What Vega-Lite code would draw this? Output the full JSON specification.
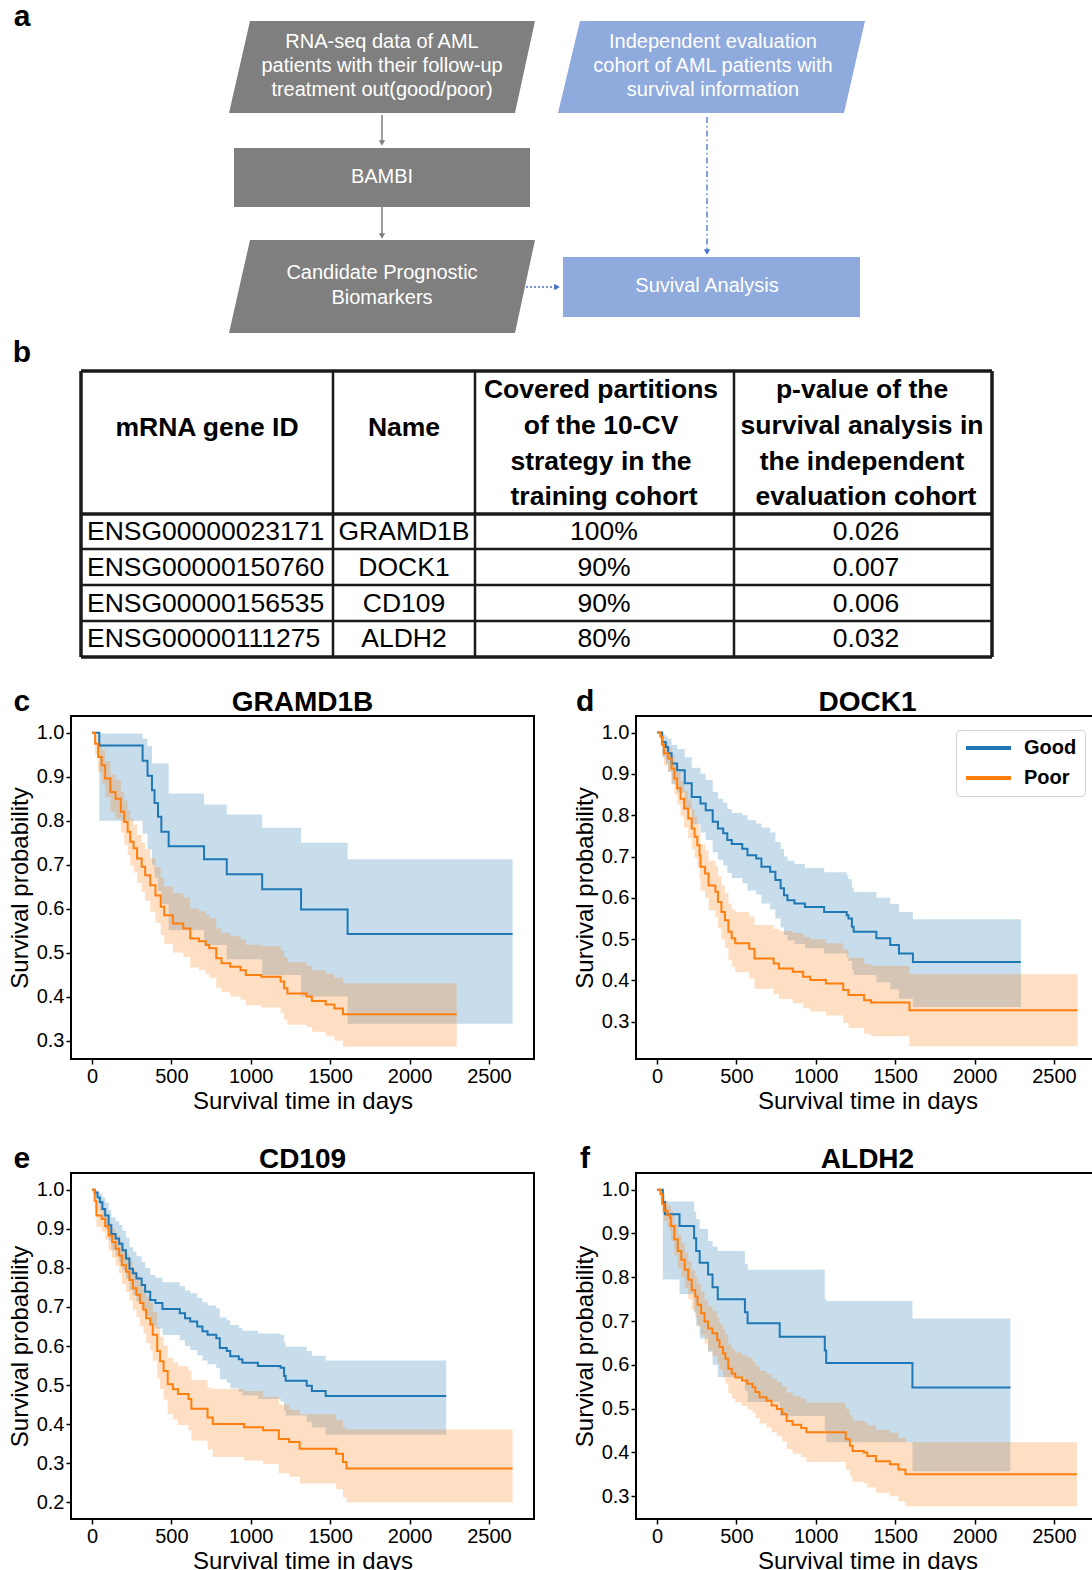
{
"$schema": "https://vega.github.io/schema/vega-lite/v6.json",
"padding": {"left": 7, "top": 0, "right": 0, "bottom": 0},
"background": "white",
"config": {
  "font": "Liberation Sans",
  "view": {"stroke": "black", "strokeWidth": 2},
  "axis": {"domain": false, "grid": false, "tickColor": "black", "tickSize": 5, "tickWidth": 1.5, "labelFontSize": 20, "labelColor": "black", "labelPadding": 2, "titleFontSize": 24, "titleFontWeight": "normal", "titleColor": "black", "titlePadding": 4, "labelOverlap": false},
  "axisX": {"labelPadding": 2, "titlePadding": 3}
},
"datasets": {
  "boxes": [
    {"id": "b1", "kind": "gray", "y": 21, "x": 250, "x2": 535},
    {"id": "b1", "kind": "gray", "y": 113, "x": 229, "x2": 515},
    {"id": "b2", "kind": "gray", "y": 148, "x": 234, "x2": 530},
    {"id": "b2", "kind": "gray", "y": 207, "x": 234, "x2": 530},
    {"id": "b3", "kind": "gray", "y": 240, "x": 250, "x2": 535},
    {"id": "b3", "kind": "gray", "y": 333, "x": 229, "x2": 515},
    {"id": "b4", "kind": "blue", "y": 21, "x": 580, "x2": 865},
    {"id": "b4", "kind": "blue", "y": 113, "x": 558, "x2": 844},
    {"id": "b5", "kind": "blue", "y": 257, "x": 563, "x2": 860},
    {"id": "b5", "kind": "blue", "y": 317, "x": 563, "x2": 860}
  ],
  "flowtext": [
    {"x": 382, "y": 42, "txt": "RNA-seq data of AML"},
    {"x": 382, "y": 66, "txt": "patients with their follow-up"},
    {"x": 382, "y": 90, "txt": "treatment out(good/poor)"},
    {"x": 382, "y": 177, "txt": "BAMBI"},
    {"x": 382, "y": 273, "txt": "Candidate Prognostic"},
    {"x": 382, "y": 298, "txt": "Biomarkers"},
    {"x": 713, "y": 42, "txt": "Independent evaluation"},
    {"x": 713, "y": 66, "txt": "cohort of AML patients with"},
    {"x": 713, "y": 90, "txt": "survival information"},
    {"x": 707, "y": 286, "txt": "Suvival Analysis"}
  ],
  "grayarrows": [
    {"x": 382, "y": 115, "x2": 382, "y2": 142},
    {"x": 382, "y": 207, "x2": 382, "y2": 235}
  ],
  "grayheads": [{"x": 382, "y": 143}, {"x": 382, "y": 236}],
  "dashdot": [{"x": 707, "y": 117, "x2": 707, "y2": 250}],
  "bluedownhead": [{"x": 707, "y": 252}],
  "dotted": [{"x": 526, "y": 287, "x2": 555, "y2": 287}],
  "bluerighthead": [{"x": 557, "y": 287}],
  "letters": [{"x": 22, "y": 17, "txt": "a"}, {"x": 22, "y": 353, "txt": "b"}],
  "tlines": [
    {"x": 81, "y": 549, "x2": 992, "y2": 549},
    {"x": 81, "y": 585, "x2": 992, "y2": 585},
    {"x": 81, "y": 621, "x2": 992, "y2": 621},
    {"x": 333, "y": 371, "x2": 333, "y2": 657},
    {"x": 475, "y": 371, "x2": 475, "y2": 657},
    {"x": 734, "y": 371, "x2": 734, "y2": 657}
  ],
  "tthick": [
    {"x": 81, "y": 371, "x2": 992, "y2": 371},
    {"x": 81, "y": 514, "x2": 992, "y2": 514},
    {"x": 81, "y": 657, "x2": 992, "y2": 657},
    {"x": 81, "y": 371, "x2": 81, "y2": 657},
    {"x": 992, "y": 371, "x2": 992, "y2": 657}
  ],
  "thead": [
    {"x": 207, "y": 428, "txt": "mRNA gene ID"},
    {"x": 404, "y": 428, "txt": "Name"},
    {"x": 601, "y": 390, "txt": "Covered partitions"},
    {"x": 601, "y": 426, "txt": "of the 10-CV"},
    {"x": 601, "y": 462, "txt": "strategy in the"},
    {"x": 604, "y": 497, "txt": "training cohort"},
    {"x": 862, "y": 390, "txt": "p-value of the"},
    {"x": 862, "y": 426, "txt": "survival analysis in"},
    {"x": 862, "y": 462, "txt": "the independent"},
    {"x": 866, "y": 497, "txt": "evaluation cohort"}
  ],
  "tid": [
    {"x": 87, "y": 532, "txt": "ENSG00000023171"},
    {"x": 87, "y": 568, "txt": "ENSG00000150760"},
    {"x": 87, "y": 604, "txt": "ENSG00000156535"},
    {"x": 87, "y": 639, "txt": "ENSG00000111275"}
  ],
  "tcell": [
    {"x": 404, "y": 532, "txt": "GRAMD1B"},
    {"x": 404, "y": 568, "txt": "DOCK1"},
    {"x": 404, "y": 604, "txt": "CD109"},
    {"x": 404, "y": 639, "txt": "ALDH2"},
    {"x": 604, "y": 532, "txt": "100%"},
    {"x": 604, "y": 568, "txt": "90%"},
    {"x": 604, "y": 604, "txt": "90%"},
    {"x": 604, "y": 639, "txt": "80%"},
    {"x": 866, "y": 532, "txt": "0.026"},
    {"x": 866, "y": 568, "txt": "0.007"},
    {"x": 866, "y": 604, "txt": "0.006"},
    {"x": 866, "y": 639, "txt": "0.032"}
  ],
  "c": [
    {"g":"Good","t":0,"s":1,"lo":1,"hi":1},
    {"g":"Good","t":46,"s":0.971,"lo":0.8,"hi":0.998},
    {"g":"Good","t":319,"s":0.936,"lo":0.77,"hi":0.986},
    {"g":"Good","t":350,"s":0.902,"lo":0.735,"hi":0.97},
    {"g":"Good","t":378,"s":0.869,"lo":0.7,"hi":0.93},
    {"g":"Good","t":394,"s":0.84,"lo":0.67,"hi":0.93},
    {"g":"Good","t":416,"s":0.809,"lo":0.64,"hi":0.93},
    {"g":"Good","t":437,"s":0.775,"lo":0.61,"hi":0.93},
    {"g":"Good","t":483,"s":0.742,"lo":0.551,"hi":0.862},
    {"g":"Good","t":706,"s":0.712,"lo":0.517,"hi":0.837},
    {"g":"Good","t":849,"s":0.678,"lo":0.485,"hi":0.814},
    {"g":"Good","t":1072,"s":0.644,"lo":0.449,"hi":0.784},
    {"g":"Good","t":1317,"s":0.598,"lo":0.4,"hi":0.75},
    {"g":"Good","t":1610,"s":0.542,"lo":0.338,"hi":0.712},
    {"g":"Good","t":2649,"s":0.542,"lo":0.338,"hi":0.712},
    {"g":"Poor","t":0,"s":1,"lo":1,"hi":1},
    {"g":"Poor","t":20,"s":0.975,"lo":0.95,"hi":0.995},
    {"g":"Poor","t":39,"s":0.945,"lo":0.91,"hi":0.975},
    {"g":"Poor","t":61,"s":0.926,"lo":0.885,"hi":0.96},
    {"g":"Poor","t":83,"s":0.896,"lo":0.853,"hi":0.935},
    {"g":"Poor","t":116,"s":0.865,"lo":0.82,"hi":0.905},
    {"g":"Poor","t":149,"s":0.85,"lo":0.805,"hi":0.893},
    {"g":"Poor","t":182,"s":0.82,"lo":0.773,"hi":0.865},
    {"g":"Poor","t":203,"s":0.797,"lo":0.745,"hi":0.845},
    {"g":"Poor","t":225,"s":0.775,"lo":0.722,"hi":0.825},
    {"g":"Poor","t":241,"s":0.752,"lo":0.698,"hi":0.805},
    {"g":"Poor","t":262,"s":0.737,"lo":0.682,"hi":0.79},
    {"g":"Poor","t":284,"s":0.714,"lo":0.658,"hi":0.768},
    {"g":"Poor","t":313,"s":0.695,"lo":0.638,"hi":0.75},
    {"g":"Poor","t":335,"s":0.676,"lo":0.618,"hi":0.735},
    {"g":"Poor","t":367,"s":0.653,"lo":0.593,"hi":0.715},
    {"g":"Poor","t":400,"s":0.63,"lo":0.568,"hi":0.695},
    {"g":"Poor","t":433,"s":0.604,"lo":0.54,"hi":0.67},
    {"g":"Poor","t":455,"s":0.585,"lo":0.52,"hi":0.65},
    {"g":"Poor","t":510,"s":0.566,"lo":0.5,"hi":0.635},
    {"g":"Poor","t":575,"s":0.555,"lo":0.49,"hi":0.625},
    {"g":"Poor","t":619,"s":0.532,"lo":0.466,"hi":0.6},
    {"g":"Poor","t":674,"s":0.526,"lo":0.46,"hi":0.594},
    {"g":"Poor","t":717,"s":0.517,"lo":0.45,"hi":0.586},
    {"g":"Poor","t":739,"s":0.51,"lo":0.443,"hi":0.578},
    {"g":"Poor","t":783,"s":0.487,"lo":0.42,"hi":0.555},
    {"g":"Poor","t":816,"s":0.476,"lo":0.41,"hi":0.545},
    {"g":"Poor","t":871,"s":0.468,"lo":0.4,"hi":0.537},
    {"g":"Poor","t":936,"s":0.46,"lo":0.393,"hi":0.53},
    {"g":"Poor","t":969,"s":0.449,"lo":0.38,"hi":0.518},
    {"g":"Poor","t":1067,"s":0.445,"lo":0.375,"hi":0.515},
    {"g":"Poor","t":1188,"s":0.434,"lo":0.363,"hi":0.505},
    {"g":"Poor","t":1210,"s":0.419,"lo":0.348,"hi":0.49},
    {"g":"Poor","t":1231,"s":0.407,"lo":0.336,"hi":0.478},
    {"g":"Poor","t":1352,"s":0.4,"lo":0.33,"hi":0.47},
    {"g":"Poor","t":1385,"s":0.39,"lo":0.32,"hi":0.46},
    {"g":"Poor","t":1472,"s":0.382,"lo":0.31,"hi":0.452},
    {"g":"Poor","t":1527,"s":0.373,"lo":0.3,"hi":0.443},
    {"g":"Poor","t":1581,"s":0.36,"lo":0.286,"hi":0.43},
    {"g":"Poor","t":2297,"s":0.36,"lo":0.286,"hi":0.43}
  ],
  "d": [
    {"g":"Good","t":0,"s":1,"lo":1,"hi":1},
    {"g":"Good","t":33,"s":0.977,"lo":0.94,"hi":0.995},
    {"g":"Good","t":55,"s":0.965,"lo":0.925,"hi":0.99},
    {"g":"Good","t":70,"s":0.95,"lo":0.905,"hi":0.985},
    {"g":"Good","t":92,"s":0.925,"lo":0.875,"hi":0.97},
    {"g":"Good","t":127,"s":0.909,"lo":0.855,"hi":0.96},
    {"g":"Good","t":175,"s":0.877,"lo":0.815,"hi":0.94},
    {"g":"Good","t":219,"s":0.844,"lo":0.778,"hi":0.915},
    {"g":"Good","t":274,"s":0.828,"lo":0.758,"hi":0.9},
    {"g":"Good","t":307,"s":0.812,"lo":0.74,"hi":0.885},
    {"g":"Good","t":351,"s":0.784,"lo":0.71,"hi":0.856},
    {"g":"Good","t":384,"s":0.768,"lo":0.692,"hi":0.84},
    {"g":"Good","t":417,"s":0.756,"lo":0.678,"hi":0.83},
    {"g":"Good","t":443,"s":0.74,"lo":0.66,"hi":0.815},
    {"g":"Good","t":471,"s":0.73,"lo":0.648,"hi":0.805},
    {"g":"Good","t":537,"s":0.719,"lo":0.635,"hi":0.8},
    {"g":"Good","t":570,"s":0.703,"lo":0.618,"hi":0.788},
    {"g":"Good","t":625,"s":0.695,"lo":0.608,"hi":0.78},
    {"g":"Good","t":658,"s":0.675,"lo":0.586,"hi":0.77},
    {"g":"Good","t":713,"s":0.663,"lo":0.572,"hi":0.758},
    {"g":"Good","t":746,"s":0.643,"lo":0.55,"hi":0.735},
    {"g":"Good","t":779,"s":0.623,"lo":0.528,"hi":0.718},
    {"g":"Good","t":800,"s":0.606,"lo":0.51,"hi":0.7},
    {"g":"Good","t":822,"s":0.594,"lo":0.497,"hi":0.69},
    {"g":"Good","t":866,"s":0.586,"lo":0.488,"hi":0.682},
    {"g":"Good","t":932,"s":0.578,"lo":0.478,"hi":0.672},
    {"g":"Good","t":1053,"s":0.566,"lo":0.465,"hi":0.662},
    {"g":"Good","t":1195,"s":0.558,"lo":0.456,"hi":0.655},
    {"g":"Good","t":1206,"s":0.55,"lo":0.447,"hi":0.645},
    {"g":"Good","t":1228,"s":0.53,"lo":0.426,"hi":0.625},
    {"g":"Good","t":1239,"s":0.518,"lo":0.413,"hi":0.614},
    {"g":"Good","t":1382,"s":0.502,"lo":0.396,"hi":0.6},
    {"g":"Good","t":1469,"s":0.486,"lo":0.378,"hi":0.585},
    {"g":"Good","t":1524,"s":0.465,"lo":0.356,"hi":0.566},
    {"g":"Good","t":1612,"s":0.445,"lo":0.336,"hi":0.548},
    {"g":"Good","t":2292,"s":0.445,"lo":0.336,"hi":0.548},
    {"g":"Poor","t":0,"s":1,"lo":1,"hi":1},
    {"g":"Poor","t":22,"s":0.99,"lo":0.97,"hi":0.998},
    {"g":"Poor","t":33,"s":0.97,"lo":0.945,"hi":0.99},
    {"g":"Poor","t":44,"s":0.95,"lo":0.92,"hi":0.975},
    {"g":"Poor","t":70,"s":0.937,"lo":0.905,"hi":0.965},
    {"g":"Poor","t":92,"s":0.913,"lo":0.877,"hi":0.945},
    {"g":"Poor","t":110,"s":0.889,"lo":0.85,"hi":0.925},
    {"g":"Poor","t":127,"s":0.865,"lo":0.825,"hi":0.905},
    {"g":"Poor","t":149,"s":0.84,"lo":0.797,"hi":0.882},
    {"g":"Poor","t":171,"s":0.816,"lo":0.77,"hi":0.86},
    {"g":"Poor","t":197,"s":0.792,"lo":0.745,"hi":0.838},
    {"g":"Poor","t":219,"s":0.768,"lo":0.718,"hi":0.815},
    {"g":"Poor","t":237,"s":0.748,"lo":0.696,"hi":0.797},
    {"g":"Poor","t":254,"s":0.727,"lo":0.673,"hi":0.778},
    {"g":"Poor","t":268,"s":0.703,"lo":0.648,"hi":0.757},
    {"g":"Poor","t":274,"s":0.675,"lo":0.618,"hi":0.73},
    {"g":"Poor","t":303,"s":0.659,"lo":0.6,"hi":0.715},
    {"g":"Poor","t":325,"s":0.63,"lo":0.57,"hi":0.69},
    {"g":"Poor","t":368,"s":0.615,"lo":0.553,"hi":0.677},
    {"g":"Poor","t":384,"s":0.59,"lo":0.527,"hi":0.653},
    {"g":"Poor","t":406,"s":0.566,"lo":0.5,"hi":0.63},
    {"g":"Poor","t":428,"s":0.546,"lo":0.479,"hi":0.612},
    {"g":"Poor","t":450,"s":0.518,"lo":0.45,"hi":0.586},
    {"g":"Poor","t":471,"s":0.502,"lo":0.433,"hi":0.572},
    {"g":"Poor","t":493,"s":0.49,"lo":0.42,"hi":0.566},
    {"g":"Poor","t":581,"s":0.477,"lo":0.405,"hi":0.555},
    {"g":"Poor","t":614,"s":0.453,"lo":0.38,"hi":0.534},
    {"g":"Poor","t":735,"s":0.441,"lo":0.367,"hi":0.525},
    {"g":"Poor","t":768,"s":0.429,"lo":0.355,"hi":0.52},
    {"g":"Poor","t":855,"s":0.421,"lo":0.345,"hi":0.515},
    {"g":"Poor","t":921,"s":0.409,"lo":0.333,"hi":0.505},
    {"g":"Poor","t":965,"s":0.401,"lo":0.325,"hi":0.5},
    {"g":"Poor","t":1064,"s":0.393,"lo":0.315,"hi":0.49},
    {"g":"Poor","t":1173,"s":0.377,"lo":0.298,"hi":0.475},
    {"g":"Poor","t":1206,"s":0.365,"lo":0.285,"hi":0.455},
    {"g":"Poor","t":1305,"s":0.352,"lo":0.271,"hi":0.44},
    {"g":"Poor","t":1349,"s":0.347,"lo":0.265,"hi":0.435},
    {"g":"Poor","t":1590,"s":0.328,"lo":0.241,"hi":0.415},
    {"g":"Poor","t":2649,"s":0.328,"lo":0.241,"hi":0.415}
  ],
  "e": [
    {"g":"Good","t":0,"s":1,"lo":1,"hi":1},
    {"g":"Good","t":17,"s":0.993,"lo":0.98,"hi":0.999},
    {"g":"Good","t":35,"s":0.98,"lo":0.96,"hi":0.995},
    {"g":"Good","t":50,"s":0.968,"lo":0.945,"hi":0.99},
    {"g":"Good","t":66,"s":0.951,"lo":0.922,"hi":0.98},
    {"g":"Good","t":83,"s":0.934,"lo":0.9,"hi":0.967},
    {"g":"Good","t":105,"s":0.909,"lo":0.87,"hi":0.948},
    {"g":"Good","t":122,"s":0.887,"lo":0.845,"hi":0.93},
    {"g":"Good","t":149,"s":0.875,"lo":0.83,"hi":0.92},
    {"g":"Good","t":171,"s":0.862,"lo":0.815,"hi":0.91},
    {"g":"Good","t":192,"s":0.845,"lo":0.795,"hi":0.895},
    {"g":"Good","t":214,"s":0.824,"lo":0.772,"hi":0.877},
    {"g":"Good","t":236,"s":0.798,"lo":0.743,"hi":0.853},
    {"g":"Good","t":258,"s":0.786,"lo":0.73,"hi":0.842},
    {"g":"Good","t":280,"s":0.773,"lo":0.715,"hi":0.83},
    {"g":"Good","t":313,"s":0.756,"lo":0.696,"hi":0.815},
    {"g":"Good","t":335,"s":0.739,"lo":0.677,"hi":0.8},
    {"g":"Good","t":367,"s":0.718,"lo":0.654,"hi":0.782},
    {"g":"Good","t":400,"s":0.71,"lo":0.645,"hi":0.775},
    {"g":"Good","t":444,"s":0.695,"lo":0.628,"hi":0.763},
    {"g":"Good","t":553,"s":0.684,"lo":0.615,"hi":0.753},
    {"g":"Good","t":586,"s":0.671,"lo":0.6,"hi":0.742},
    {"g":"Good","t":619,"s":0.663,"lo":0.59,"hi":0.735},
    {"g":"Good","t":663,"s":0.65,"lo":0.576,"hi":0.723},
    {"g":"Good","t":696,"s":0.638,"lo":0.563,"hi":0.712},
    {"g":"Good","t":728,"s":0.629,"lo":0.553,"hi":0.704},
    {"g":"Good","t":783,"s":0.62,"lo":0.543,"hi":0.696},
    {"g":"Good","t":805,"s":0.595,"lo":0.515,"hi":0.673},
    {"g":"Good","t":849,"s":0.587,"lo":0.506,"hi":0.666},
    {"g":"Good","t":871,"s":0.574,"lo":0.492,"hi":0.654},
    {"g":"Good","t":925,"s":0.566,"lo":0.483,"hi":0.647},
    {"g":"Good","t":947,"s":0.557,"lo":0.473,"hi":0.639},
    {"g":"Good","t":1045,"s":0.549,"lo":0.464,"hi":0.632},
    {"g":"Good","t":1188,"s":0.544,"lo":0.458,"hi":0.628},
    {"g":"Good","t":1210,"s":0.523,"lo":0.435,"hi":0.609},
    {"g":"Good","t":1220,"s":0.511,"lo":0.422,"hi":0.598},
    {"g":"Good","t":1352,"s":0.498,"lo":0.406,"hi":0.587},
    {"g":"Good","t":1385,"s":0.485,"lo":0.391,"hi":0.575},
    {"g":"Good","t":1472,"s":0.472,"lo":0.373,"hi":0.563},
    {"g":"Good","t":2231,"s":0.472,"lo":0.373,"hi":0.563},
    {"g":"Poor","t":0,"s":1,"lo":1,"hi":1},
    {"g":"Poor","t":17,"s":0.972,"lo":0.95,"hi":0.99},
    {"g":"Poor","t":28,"s":0.934,"lo":0.905,"hi":0.96},
    {"g":"Poor","t":61,"s":0.925,"lo":0.893,"hi":0.952},
    {"g":"Poor","t":83,"s":0.907,"lo":0.872,"hi":0.937},
    {"g":"Poor","t":105,"s":0.883,"lo":0.845,"hi":0.915},
    {"g":"Poor","t":127,"s":0.866,"lo":0.826,"hi":0.9},
    {"g":"Poor","t":149,"s":0.849,"lo":0.806,"hi":0.885},
    {"g":"Poor","t":171,"s":0.832,"lo":0.787,"hi":0.87},
    {"g":"Poor","t":188,"s":0.807,"lo":0.758,"hi":0.848},
    {"g":"Poor","t":214,"s":0.79,"lo":0.739,"hi":0.833},
    {"g":"Poor","t":236,"s":0.769,"lo":0.716,"hi":0.815},
    {"g":"Poor","t":258,"s":0.748,"lo":0.693,"hi":0.796},
    {"g":"Poor","t":280,"s":0.731,"lo":0.674,"hi":0.78},
    {"g":"Poor","t":302,"s":0.71,"lo":0.651,"hi":0.761},
    {"g":"Poor","t":324,"s":0.693,"lo":0.632,"hi":0.745},
    {"g":"Poor","t":341,"s":0.671,"lo":0.608,"hi":0.725},
    {"g":"Poor","t":367,"s":0.655,"lo":0.59,"hi":0.71},
    {"g":"Poor","t":383,"s":0.629,"lo":0.562,"hi":0.687},
    {"g":"Poor","t":411,"s":0.587,"lo":0.517,"hi":0.648},
    {"g":"Poor","t":429,"s":0.561,"lo":0.49,"hi":0.624},
    {"g":"Poor","t":451,"s":0.536,"lo":0.463,"hi":0.601},
    {"g":"Poor","t":477,"s":0.502,"lo":0.426,"hi":0.57},
    {"g":"Poor","t":510,"s":0.489,"lo":0.412,"hi":0.558},
    {"g":"Poor","t":542,"s":0.477,"lo":0.398,"hi":0.548},
    {"g":"Poor","t":608,"s":0.464,"lo":0.384,"hi":0.537},
    {"g":"Poor","t":626,"s":0.439,"lo":0.358,"hi":0.513},
    {"g":"Poor","t":728,"s":0.417,"lo":0.335,"hi":0.493},
    {"g":"Poor","t":761,"s":0.4,"lo":0.316,"hi":0.49},
    {"g":"Poor","t":958,"s":0.392,"lo":0.307,"hi":0.485},
    {"g":"Poor","t":1078,"s":0.384,"lo":0.298,"hi":0.47},
    {"g":"Poor","t":1177,"s":0.362,"lo":0.274,"hi":0.45},
    {"g":"Poor","t":1242,"s":0.354,"lo":0.265,"hi":0.437},
    {"g":"Poor","t":1308,"s":0.337,"lo":0.248,"hi":0.425},
    {"g":"Poor","t":1538,"s":0.324,"lo":0.233,"hi":0.411},
    {"g":"Poor","t":1581,"s":0.303,"lo":0.213,"hi":0.392},
    {"g":"Poor","t":1603,"s":0.286,"lo":0.2,"hi":0.386},
    {"g":"Poor","t":2649,"s":0.286,"lo":0.2,"hi":0.386}
  ],
  "f": [
    {"g":"Good","t":0,"s":1,"lo":1,"hi":1},
    {"g":"Good","t":37,"s":0.972,"lo":0.795,"hi":0.99},
    {"g":"Good","t":50,"s":0.944,"lo":0.795,"hi":0.973},
    {"g":"Good","t":142,"s":0.917,"lo":0.762,"hi":0.973},
    {"g":"Good","t":234,"s":0.889,"lo":0.72,"hi":0.95},
    {"g":"Good","t":247,"s":0.86,"lo":0.69,"hi":0.933},
    {"g":"Good","t":269,"s":0.833,"lo":0.66,"hi":0.91},
    {"g":"Good","t":322,"s":0.806,"lo":0.63,"hi":0.883},
    {"g":"Good","t":350,"s":0.777,"lo":0.6,"hi":0.87},
    {"g":"Good","t":383,"s":0.75,"lo":0.572,"hi":0.86},
    {"g":"Good","t":554,"s":0.72,"lo":0.54,"hi":0.83},
    {"g":"Good","t":571,"s":0.695,"lo":0.515,"hi":0.817},
    {"g":"Good","t":773,"s":0.664,"lo":0.483,"hi":0.817},
    {"g":"Good","t":1057,"s":0.633,"lo":0.45,"hi":0.75},
    {"g":"Good","t":1066,"s":0.604,"lo":0.423,"hi":0.746},
    {"g":"Good","t":1609,"s":0.548,"lo":0.357,"hi":0.706},
    {"g":"Good","t":2226,"s":0.548,"lo":0.357,"hi":0.706},
    {"g":"Poor","t":0,"s":1,"lo":1,"hi":1},
    {"g":"Poor","t":22,"s":0.99,"lo":0.975,"hi":0.998},
    {"g":"Poor","t":33,"s":0.967,"lo":0.945,"hi":0.985},
    {"g":"Poor","t":44,"s":0.952,"lo":0.928,"hi":0.975},
    {"g":"Poor","t":66,"s":0.942,"lo":0.915,"hi":0.965},
    {"g":"Poor","t":81,"s":0.936,"lo":0.905,"hi":0.962},
    {"g":"Poor","t":88,"s":0.917,"lo":0.882,"hi":0.95},
    {"g":"Poor","t":109,"s":0.887,"lo":0.85,"hi":0.922},
    {"g":"Poor","t":131,"s":0.86,"lo":0.82,"hi":0.898},
    {"g":"Poor","t":153,"s":0.84,"lo":0.8,"hi":0.878},
    {"g":"Poor","t":175,"s":0.817,"lo":0.775,"hi":0.857},
    {"g":"Poor","t":197,"s":0.794,"lo":0.75,"hi":0.837},
    {"g":"Poor","t":219,"s":0.771,"lo":0.725,"hi":0.816},
    {"g":"Poor","t":241,"s":0.756,"lo":0.708,"hi":0.802},
    {"g":"Poor","t":256,"s":0.737,"lo":0.688,"hi":0.785},
    {"g":"Poor","t":278,"s":0.718,"lo":0.668,"hi":0.767},
    {"g":"Poor","t":300,"s":0.699,"lo":0.648,"hi":0.749},
    {"g":"Poor","t":322,"s":0.683,"lo":0.632,"hi":0.734},
    {"g":"Poor","t":350,"s":0.672,"lo":0.62,"hi":0.723},
    {"g":"Poor","t":379,"s":0.656,"lo":0.604,"hi":0.708},
    {"g":"Poor","t":394,"s":0.641,"lo":0.588,"hi":0.693},
    {"g":"Poor","t":416,"s":0.626,"lo":0.571,"hi":0.68},
    {"g":"Poor","t":431,"s":0.614,"lo":0.558,"hi":0.669},
    {"g":"Poor","t":449,"s":0.591,"lo":0.535,"hi":0.647},
    {"g":"Poor","t":471,"s":0.58,"lo":0.523,"hi":0.637},
    {"g":"Poor","t":493,"s":0.571,"lo":0.514,"hi":0.628},
    {"g":"Poor","t":536,"s":0.564,"lo":0.506,"hi":0.622},
    {"g":"Poor","t":569,"s":0.557,"lo":0.498,"hi":0.616},
    {"g":"Poor","t":602,"s":0.549,"lo":0.49,"hi":0.608},
    {"g":"Poor","t":620,"s":0.538,"lo":0.478,"hi":0.598},
    {"g":"Poor","t":646,"s":0.526,"lo":0.466,"hi":0.586},
    {"g":"Poor","t":690,"s":0.518,"lo":0.457,"hi":0.579},
    {"g":"Poor","t":722,"s":0.507,"lo":0.446,"hi":0.568},
    {"g":"Poor","t":755,"s":0.499,"lo":0.437,"hi":0.561},
    {"g":"Poor","t":788,"s":0.488,"lo":0.425,"hi":0.551},
    {"g":"Poor","t":817,"s":0.472,"lo":0.407,"hi":0.537},
    {"g":"Poor","t":854,"s":0.463,"lo":0.397,"hi":0.529},
    {"g":"Poor","t":908,"s":0.456,"lo":0.389,"hi":0.523},
    {"g":"Poor","t":941,"s":0.446,"lo":0.378,"hi":0.514},
    {"g":"Poor","t":1189,"s":0.43,"lo":0.36,"hi":0.5},
    {"g":"Poor","t":1215,"s":0.415,"lo":0.345,"hi":0.485},
    {"g":"Poor","t":1232,"s":0.403,"lo":0.333,"hi":0.473},
    {"g":"Poor","t":1302,"s":0.4,"lo":0.329,"hi":0.47},
    {"g":"Poor","t":1324,"s":0.392,"lo":0.32,"hi":0.462},
    {"g":"Poor","t":1379,"s":0.38,"lo":0.308,"hi":0.452},
    {"g":"Poor","t":1467,"s":0.373,"lo":0.3,"hi":0.445},
    {"g":"Poor","t":1521,"s":0.361,"lo":0.288,"hi":0.433},
    {"g":"Poor","t":1565,"s":0.35,"lo":0.277,"hi":0.423},
    {"g":"Poor","t":2645,"s":0.35,"lo":0.277,"hi":0.423}
  ]
},
"spacing": 15,
"resolve": {"scale": {"color": "independent"}, "legend": {"color": "independent"}},
"vconcat": [
  {
    "width": 1092, "height": 670,
    "view": {"stroke": null},
    "encoding": {
      "x": {"field": "x", "type": "quantitative", "scale": {"domain": [71, 1163], "nice": false, "zero": false}, "axis": null},
      "y": {"field": "y", "type": "quantitative", "scale": {"domain": [0, 670], "reverse": true, "nice": false, "zero": false}, "axis": null}
    },
    "layer": [
      {"data": {"name": "boxes"}, "mark": {"type": "area", "orient": "horizontal"},
       "encoding": {"x": {"field": "x", "type": "quantitative", "stack": null, "scale": {"domain": [71, 1163], "nice": false, "zero": false}, "axis": null}, "x2": {"field": "x2"}, "detail": {"field": "id"},
         "color": {"field": "kind", "type": "nominal", "scale": {"domain": ["gray", "blue"], "range": ["#7f7f7f", "#8faadc"]}, "legend": null}}},
      {"data": {"name": "flowtext"}, "mark": {"type": "text", "color": "white", "fontSize": 20, "align": "center", "baseline": "middle"}, "encoding": {"text": {"field": "txt"}}},
      {"data": {"name": "grayarrows"}, "mark": {"type": "rule", "color": "#7f7f7f", "strokeWidth": 1.5}, "encoding": {"x2": {"field": "x2"}, "y2": {"field": "y2"}}},
      {"data": {"name": "grayheads"}, "mark": {"type": "point", "shape": "triangle-down", "filled": true, "color": "#7f7f7f", "size": 40, "opacity": 1}, "encoding": {}},
      {"data": {"name": "dashdot"}, "mark": {"type": "rule", "color": "#4472c4", "strokeWidth": 1.3, "strokeDash": [6, 3, 1.5, 3]}, "encoding": {"x2": {"field": "x2"}, "y2": {"field": "y2"}}},
      {"data": {"name": "bluedownhead"}, "mark": {"type": "point", "shape": "triangle-down", "filled": true, "color": "#4472c4", "size": 40, "opacity": 1}, "encoding": {}},
      {"data": {"name": "dotted"}, "mark": {"type": "rule", "color": "#4472c4", "strokeWidth": 1.3, "strokeDash": [2, 2]}, "encoding": {"x2": {"field": "x2"}, "y2": {"field": "y2"}}},
      {"data": {"name": "bluerighthead"}, "mark": {"type": "point", "shape": "triangle-right", "filled": true, "color": "#4472c4", "size": 40, "opacity": 1}, "encoding": {}},
      {"data": {"name": "letters"}, "mark": {"type": "text", "color": "black", "fontSize": 30, "fontWeight": "bold", "align": "center", "baseline": "middle"}, "encoding": {"text": {"field": "txt"}}},
      {"data": {"name": "tlines"}, "mark": {"type": "rule", "color": "#1a1a1a", "strokeWidth": 2.5}, "encoding": {"x2": {"field": "x2"}, "y2": {"field": "y2"}}},
      {"data": {"name": "tthick"}, "mark": {"type": "rule", "color": "#1a1a1a", "strokeWidth": 3.5}, "encoding": {"x2": {"field": "x2"}, "y2": {"field": "y2"}}},
      {"data": {"name": "thead"}, "mark": {"type": "text", "color": "black", "fontSize": 26.5, "fontWeight": "bold", "align": "center", "baseline": "middle"}, "encoding": {"text": {"field": "txt"}}},
      {"data": {"name": "tid"}, "mark": {"type": "text", "color": "black", "fontSize": 26.5, "align": "left", "baseline": "middle"}, "encoding": {"text": {"field": "txt"}}},
      {"data": {"name": "tcell"}, "mark": {"type": "text", "color": "black", "fontSize": 26.5, "align": "center", "baseline": "middle"}, "encoding": {"text": {"field": "txt"}}}
    ]
  },
  {
    "spacing": 28,
    "resolve": {"scale": {"color": "independent"}, "legend": {"color": "independent"}},
    "vconcat": [
      {
        "spacing": 37,
        "resolve": {"scale": {"color": "independent"}, "legend": {"color": "independent"}},
        "hconcat": [
          {
            "width": 463, "height": 343,
            "data": {"name": "c"},
            "encoding": {
              "x": {"field": "t", "type": "quantitative", "scale": {"domain": [-132, 2784], "nice": false, "zero": false}, "axis": {"values": [0, 500, 1000, 1500, 2000, 2500], "format": "d", "title": "Survival time in days"}},
              "y": {"field": "s", "type": "quantitative", "scale": {"domain": [0.258, 1.038], "nice": false, "zero": false}, "axis": {"values": [0.3, 0.4, 0.5, 0.6, 0.7, 0.8, 0.9, 1.0], "format": ".1f"}, "title": "Survival probability"}
            },
            "layer": [
              {"transform": [{"filter": "datum.g == 'Good'"}], "mark": {"type": "area", "interpolate": "step-after", "color": "#1f77b4", "opacity": 0.25},
               "encoding": {"y": {"field": "lo", "type": "quantitative", "scale": {"domain": [0.258, 1.038], "nice": false, "zero": false}, "title": "Survival probability"}, "y2": {"field": "hi"}}},
              {"transform": [{"filter": "datum.g == 'Poor'"}], "mark": {"type": "area", "interpolate": "step-after", "color": "#ff7f0e", "opacity": 0.25},
               "encoding": {"y": {"field": "lo", "type": "quantitative", "scale": {"domain": [0.258, 1.038], "nice": false, "zero": false}, "title": "Survival probability"}, "y2": {"field": "hi"}}},
              {"mark": {"type": "line", "interpolate": "step-after", "strokeWidth": 2},
               "encoding": {"color": {"field": "g", "type": "nominal", "scale": {"domain": ["Good", "Poor"], "range": ["#1f77b4", "#ff7f0e"]}, "legend": null}}},
              {"data": {"values": [{"lab": "GRAMD1B", "t": 1326, "s": 1.0505}]}, "mark": {"type": "text", "fontSize": 28, "fontWeight": "bold", "color": "black", "align": "center", "baseline": "alphabetic", "clip": false},
               "encoding": {"text": {"field": "lab"}}},
              {"data": {"values": [{"lab": "c", "t": -441, "s": 1.0505}]}, "mark": {"type": "text", "fontSize": 30, "fontWeight": "bold", "color": "black", "align": "center", "baseline": "alphabetic", "clip": false},
               "encoding": {"text": {"field": "lab"}}}
            ]
          },
          {
            "width": 463, "height": 343,
            "data": {"name": "d"},
            "encoding": {
              "x": {"field": "t", "type": "quantitative", "scale": {"domain": [-132, 2784], "nice": false, "zero": false}, "axis": {"values": [0, 500, 1000, 1500, 2000, 2500], "format": "d", "title": "Survival time in days"}},
              "y": {"field": "s", "type": "quantitative", "scale": {"domain": [0.21, 1.04], "nice": false, "zero": false}, "axis": {"values": [0.3, 0.4, 0.5, 0.6, 0.7, 0.8, 0.9, 1.0], "format": ".1f"}, "title": "Survival probability"}
            },
            "layer": [
              {"transform": [{"filter": "datum.g == 'Good'"}], "mark": {"type": "area", "interpolate": "step-after", "color": "#1f77b4", "opacity": 0.25},
               "encoding": {"y": {"field": "lo", "type": "quantitative", "scale": {"domain": [0.21, 1.04], "nice": false, "zero": false}, "title": "Survival probability"}, "y2": {"field": "hi"}}},
              {"transform": [{"filter": "datum.g == 'Poor'"}], "mark": {"type": "area", "interpolate": "step-after", "color": "#ff7f0e", "opacity": 0.25},
               "encoding": {"y": {"field": "lo", "type": "quantitative", "scale": {"domain": [0.21, 1.04], "nice": false, "zero": false}, "title": "Survival probability"}, "y2": {"field": "hi"}}},
              {"mark": {"type": "line", "interpolate": "step-after", "strokeWidth": 2},
               "encoding": {"color": {"field": "g", "type": "nominal", "scale": {"domain": ["Good", "Poor"], "range": ["#1f77b4", "#ff7f0e"]},
                 "legend": {"orient": "top-right", "title": null, "offset": 14, "fillColor": "white", "strokeColor": "#d0d0d0", "cornerRadius": 4, "padding": 8, "labelFontSize": 20, "labelFontWeight": "bold", "labelColor": "black", "symbolType": "stroke", "symbolStrokeWidth": 4, "symbolSize": 2025, "clipHeight": 20, "rowPadding": 10, "labelOffset": 11}}}},
              {"data": {"values": [{"lab": "DOCK1", "t": 1326, "s": 1.0533}]}, "mark": {"type": "text", "fontSize": 28, "fontWeight": "bold", "color": "black", "align": "center", "baseline": "alphabetic", "clip": false},
               "encoding": {"text": {"field": "lab"}}},
              {"data": {"values": [{"lab": "d", "t": -453, "s": 1.0533}]}, "mark": {"type": "text", "fontSize": 30, "fontWeight": "bold", "color": "black", "align": "center", "baseline": "alphabetic", "clip": false},
               "encoding": {"text": {"field": "lab"}}}
            ]
          }
        ]
      },
      {
        "spacing": 37,
        "resolve": {"scale": {"color": "independent"}, "legend": {"color": "independent"}},
        "hconcat": [
          {
            "width": 463, "height": 346,
            "data": {"name": "e"},
            "encoding": {
              "x": {"field": "t", "type": "quantitative", "scale": {"domain": [-132, 2784], "nice": false, "zero": false}, "axis": {"values": [0, 500, 1000, 1500, 2000, 2500], "format": "d", "title": "Survival time in days"}},
              "y": {"field": "s", "type": "quantitative", "scale": {"domain": [0.157, 1.043], "nice": false, "zero": false}, "axis": {"values": [0.2, 0.3, 0.4, 0.5, 0.6, 0.7, 0.8, 0.9, 1.0], "format": ".1f"}, "title": "Survival probability"}
            },
            "layer": [
              {"transform": [{"filter": "datum.g == 'Good'"}], "mark": {"type": "area", "interpolate": "step-after", "color": "#1f77b4", "opacity": 0.25},
               "encoding": {"y": {"field": "lo", "type": "quantitative", "scale": {"domain": [0.157, 1.043], "nice": false, "zero": false}, "title": "Survival probability"}, "y2": {"field": "hi"}}},
              {"transform": [{"filter": "datum.g == 'Poor'"}], "mark": {"type": "area", "interpolate": "step-after", "color": "#ff7f0e", "opacity": 0.25},
               "encoding": {"y": {"field": "lo", "type": "quantitative", "scale": {"domain": [0.157, 1.043], "nice": false, "zero": false}, "title": "Survival probability"}, "y2": {"field": "hi"}}},
              {"mark": {"type": "line", "interpolate": "step-after", "strokeWidth": 2},
               "encoding": {"color": {"field": "g", "type": "nominal", "scale": {"domain": ["Good", "Poor"], "range": ["#1f77b4", "#ff7f0e"]}, "legend": null}}},
              {"data": {"values": [{"lab": "CD109", "t": 1326, "s": 1.057}]}, "mark": {"type": "text", "fontSize": 28, "fontWeight": "bold", "color": "black", "align": "center", "baseline": "alphabetic", "clip": false},
               "encoding": {"text": {"field": "lab"}}},
              {"data": {"values": [{"lab": "e", "t": -441, "s": 1.057}]}, "mark": {"type": "text", "fontSize": 30, "fontWeight": "bold", "color": "black", "align": "center", "baseline": "alphabetic", "clip": false},
               "encoding": {"text": {"field": "lab"}}}
            ]
          },
          {
            "width": 463, "height": 346,
            "data": {"name": "f"},
            "encoding": {
              "x": {"field": "t", "type": "quantitative", "scale": {"domain": [-132, 2784], "nice": false, "zero": false}, "axis": {"values": [0, 500, 1000, 1500, 2000, 2500], "format": "d", "title": "Survival time in days"}},
              "y": {"field": "s", "type": "quantitative", "scale": {"domain": [0.248, 1.038], "nice": false, "zero": false}, "axis": {"values": [0.3, 0.4, 0.5, 0.6, 0.7, 0.8, 0.9, 1.0], "format": ".1f"}, "title": "Survival probability"}
            },
            "layer": [
              {"transform": [{"filter": "datum.g == 'Good'"}], "mark": {"type": "area", "interpolate": "step-after", "color": "#1f77b4", "opacity": 0.25},
               "encoding": {"y": {"field": "lo", "type": "quantitative", "scale": {"domain": [0.248, 1.038], "nice": false, "zero": false}, "title": "Survival probability"}, "y2": {"field": "hi"}}},
              {"transform": [{"filter": "datum.g == 'Poor'"}], "mark": {"type": "area", "interpolate": "step-after", "color": "#ff7f0e", "opacity": 0.25},
               "encoding": {"y": {"field": "lo", "type": "quantitative", "scale": {"domain": [0.248, 1.038], "nice": false, "zero": false}, "title": "Survival probability"}, "y2": {"field": "hi"}}},
              {"mark": {"type": "line", "interpolate": "step-after", "strokeWidth": 2},
               "encoding": {"color": {"field": "g", "type": "nominal", "scale": {"domain": ["Good", "Poor"], "range": ["#1f77b4", "#ff7f0e"]}, "legend": null}}},
              {"data": {"values": [{"lab": "ALDH2", "t": 1326, "s": 1.0505}]}, "mark": {"type": "text", "fontSize": 28, "fontWeight": "bold", "color": "black", "align": "center", "baseline": "alphabetic", "clip": false},
               "encoding": {"text": {"field": "lab"}}},
              {"data": {"values": [{"lab": "f", "t": -453, "s": 1.0505}]}, "mark": {"type": "text", "fontSize": 30, "fontWeight": "bold", "color": "black", "align": "center", "baseline": "alphabetic", "clip": false},
               "encoding": {"text": {"field": "lab"}}}
            ]
          }
        ]
      }
    ]
  }
]
}
